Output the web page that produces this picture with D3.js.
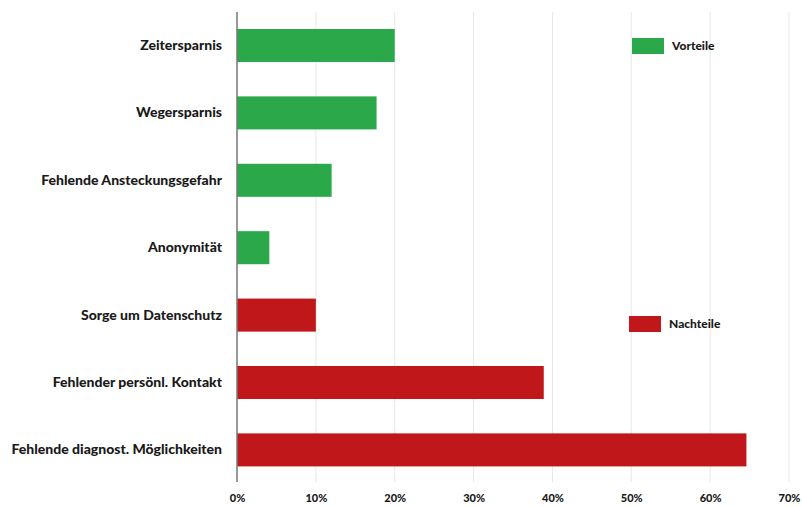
<!DOCTYPE html>
<html><head><meta charset="utf-8">
<script src="https://cdn.jsdelivr.net/npm/d3@7"></script>
<style>body{margin:0;background:#fff}svg{display:block}text{font-family:Lato,"Open Sans",sans-serif;font-weight:bold;fill:#1a1a1a}</style>
</head><body><svg id="c" width="802" height="507"></svg>
<script>
const categories = ["Zeitersparnis","Wegersparnis","Fehlende Ansteckungsgefahr","Anonymität","Sorge um Datenschutz","Fehlender persönl. Kontakt","Fehlende diagnost. Möglichkeiten"];
const values = [20, 17.7, 12, 4.1, 10, 38.9, 64.6];
const groups = ["Vorteile","Vorteile","Vorteile","Vorteile","Nachteile","Nachteile","Nachteile"];
const legendLabels = ["Vorteile","Nachteile"];
const tickValues = [0,10,20,30,40,50,60,70];

const svg = d3.select("#c");
const color = d3.scaleOrdinal().domain(legendLabels).range(["#2aa84a","#c0181a"]);
const x = d3.scaleLinear().domain([0,70]).range([237,789]);
const y = d3.scaleBand().domain(categories).range([11.8,483.6]).paddingInner(0.51).paddingOuter(0.255);

// gridlines
svg.append("g").selectAll("line").data(tickValues.slice(1)).join("line")
  .attr("x1",d=>x(d)).attr("x2",d=>x(d)).attr("y1",12).attr("y2",482)
  .attr("stroke","#e8e8e8").attr("stroke-width",1);

// bars
svg.append("g").selectAll("rect").data(categories).join("rect")
  .attr("x",x(0)).attr("y",d=>y(d)).attr("height",y.bandwidth())
  .attr("width",(d,i)=>x(values[i])-x(0))
  .attr("fill",(d,i)=>color(groups[i]));

// y axis
const ya = svg.append("g").attr("transform",`translate(${x(0)},0)`)
  .call(d3.axisLeft(y).tickSize(0).tickPadding(15));
ya.select(".domain").attr("d",`M0,12V482`).attr("stroke","#777").attr("stroke-width",1.5);
ya.selectAll("text").style("font-size","14px").style("font-family","Lato, sans-serif").style("font-weight","900").attr("fill","#1a1a1a");

// x axis
const xa = svg.append("g").attr("transform",`translate(0,482)`)
  .call(d3.axisBottom(x).tickValues(tickValues).tickFormat(d=>d+"%").tickSize(0).tickPadding(12));
xa.select(".domain").remove();
xa.selectAll("text").style("font-size","11px").style("font-family","Lato, sans-serif").style("font-weight","900").attr("fill","#1a1a1a");

// legend
const legendPos = [[632,38],[629,316]];
const lg = svg.append("g").selectAll("g").data(legendLabels).join("g")
  .attr("transform",(d,i)=>`translate(${legendPos[i][0]},${legendPos[i][1]})`);
lg.append("rect").attr("width",32).attr("height",16).attr("fill",d=>color(d));
lg.append("text").attr("x",40).attr("y",8).attr("dy","0.35em").style("font-size","12px").style("font-weight","900").text(d=>d);
</script></body></html>
